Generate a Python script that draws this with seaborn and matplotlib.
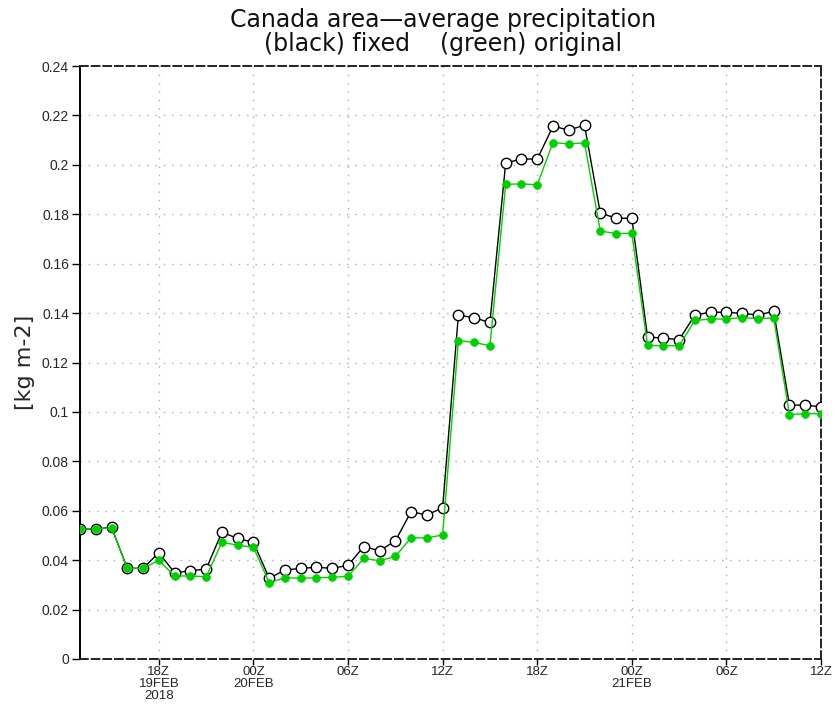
import matplotlib
matplotlib.use("Agg")
import matplotlib.pyplot as plt
import seaborn as sns
import pandas as pd
import numpy as np

# hourly steps from 13Z 19FEB2018 to 12Z 21FEB2018
hours = list(range(48))
fixed = [0.0526, 0.0526, 0.0533, 0.0367, 0.0367, 0.0430, 0.0349, 0.0357, 0.0364, 0.0513,
         0.0488, 0.0472, 0.0327, 0.0360, 0.0367, 0.0371, 0.0367, 0.0379, 0.0455, 0.0438,
         0.0478, 0.0596, 0.0583, 0.0612, 0.1392, 0.1381, 0.1362, 0.2007, 0.2024, 0.2023,
         0.2156, 0.2141, 0.2160, 0.1805, 0.1784, 0.1784, 0.1303, 0.1299, 0.1292, 0.1392,
         0.1404, 0.1403, 0.1399, 0.1392, 0.1407, 0.1027, 0.1028, 0.1020]
original = [0.0526, 0.0526, 0.0531, 0.0367, 0.0367, 0.0399, 0.0336, 0.0336, 0.0333, 0.0472,
            0.0461, 0.0452, 0.0309, 0.0329, 0.0327, 0.0329, 0.0330, 0.0335, 0.0407, 0.0398,
            0.0415, 0.0491, 0.0490, 0.0502, 0.1289, 0.1281, 0.1268, 0.1921, 0.1923, 0.1919,
            0.2090, 0.2085, 0.2089, 0.1732, 0.1722, 0.1723, 0.1269, 0.1268, 0.1268, 0.1370,
            0.1376, 0.1376, 0.1382, 0.1377, 0.1381, 0.0989, 0.0993, 0.0992]
xtick_pos = [5, 11, 17, 23, 29, 35, 41, 47]
xtick_labels = ["18Z\n19FEB\n2018", "00Z\n20FEB", "06Z", "12Z", "18Z", "00Z\n21FEB", "06Z", "12Z"]
ytick_vals = [0, 0.02, 0.04, 0.06, 0.08, 0.1, 0.12, 0.14, 0.16, 0.18, 0.2, 0.22, 0.24]
ytick_labels = ["0", "0.02", "0.04", "0.06", "0.08", "0.1", "0.12", "0.14", "0.16", "0.18", "0.2", "0.22", "0.24"]

df = pd.DataFrame({"hour": hours, "fixed": fixed, "original": original})

sns.set_style("white")
plt.rcParams["font.family"] = ["Liberation Sans", "DejaVu Sans"]

fig = plt.figure(figsize=(8.35, 7.05), dpi=100)
ax = fig.add_axes([80/835, 1 - 659/705, (821 - 80)/835, (659 - 66)/705])

# grid
for yv in ytick_vals[1:-1]:
    ax.axhline(yv, color="#aaaaaa", lw=1.0, ls=(0, (1, 5)), zorder=0)
for xv in xtick_pos[:-1]:
    ax.axvline(xv, color="#aaaaaa", lw=1.0, ls=(0, (1, 5)), zorder=0)

sns.lineplot(data=df, x="hour", y="fixed", ax=ax, color="black", lw=1.0,
             marker="o", markersize=7.5, markerfacecolor="white",
             markeredgecolor="black", markeredgewidth=1.0, zorder=3)
sns.lineplot(data=df, x="hour", y="original", ax=ax, color="#00d000", lw=1.0,
             marker="o", markersize=5.6, markerfacecolor="#00d000",
             markeredgecolor="#00d000", markeredgewidth=0.5, zorder=4)

ax.set_xlim(0, 47)
ax.set_ylim(0, 0.24)
ax.set_xticks(xtick_pos)
ax.set_xticklabels(xtick_labels, fontsize=9.5, linespacing=1.0)
ax.set_yticks(ytick_vals)
ax.set_yticklabels(ytick_labels, fontsize=10)
ax.tick_params(axis="y", direction="out", length=6, width=1, color="black", pad=2, left=True)
ax.tick_params(axis="x", direction="out", length=4, width=1, color="black", pad=1, bottom=True)
ax.set_xlabel("")
ax.set_ylabel("[kg m-2]", fontsize=16, family="DejaVu Sans", labelpad=5)

ax.spines["left"].set_color("black")
ax.spines["left"].set_linewidth(1.4)
for s in ["top", "right", "bottom"]:
    ax.spines[s].set_visible(True)
    ax.spines[s].set_color("#222222")
    ax.spines[s].set_linewidth(1.4)
    ax.spines[s].set_linestyle((0, (4, 2)))

fig.text(0.531, 0.988, "Canada area\u2014average precipitation\n(black) fixed    (green) original",
         ha="center", va="top", fontsize=17, family="DejaVu Sans", linespacing=1.0,
         color="#111111")

fig.savefig("out.png", dpi=100)
